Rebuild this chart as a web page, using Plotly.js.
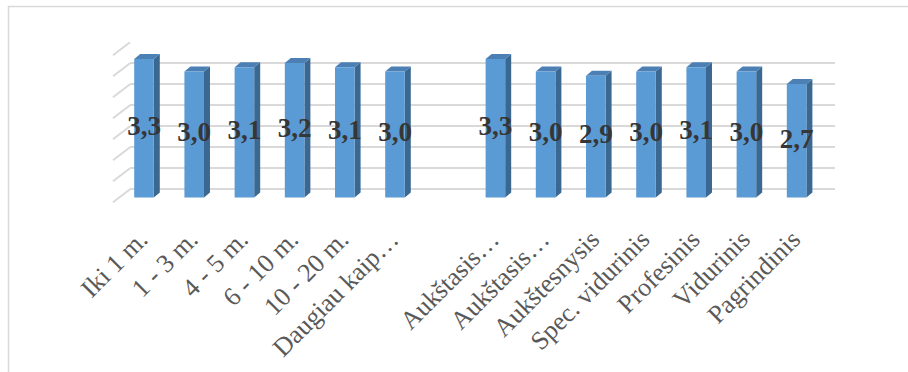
<!DOCTYPE html>
<html>
<head>
<meta charset="utf-8">
<script src="https://cdn.plot.ly/plotly-3.0.1.min.js"></script>
<style>html,body{margin:0;padding:0;background:#fff;}#chart{width:908px;height:372px;}</style>
</head>
<body>
<div id="chart"></div>
<script>
// ---- data ----
const categories = ["Iki 1 m.", "1 - 3 m.", "4 - 5 m.", "6 - 10 m.", "10 - 20 m.", "Daugiau kaip…", "", "Aukštasis…", "Aukštasis…", "Aukštesnysis", "Spec. vidurinis", "Profesinis", "Vidurinis", "Pagrindinis"];
const values = [3.3, 3.0, 3.1, 3.2, 3.1, 3.0, null, 3.3, 3.0, 2.9, 3.0, 3.1, 3.0, 2.7];
const gridStep = 0.5;
const gridMax = 3.5;

// ---- geometry (pixels) ----
const W = 908, H = 372;
const X0_PX = 144, PX_PER_X = 50.2;
const PLOT_L = 130, PLOT_R = 835, PLOT_T = 42, PLOT_B = 205;
const BASE_PX = 197.5, BACK_BASE_PX = 189.3, PX_PER_Y = 42;
const WALL_L = 113, WALL_DY = 13;
const DEPTH_DX = 6 / PX_PER_X, DEPTH_DY = 5 / PX_PER_Y;
const BAR_W = 0.39;

const xs = categories.map((c, i) => i);
const tickvals = xs.filter(i => categories[i] !== "");
const ticktext = tickvals.map(i => categories[i]);
const barX = xs.filter(i => values[i] !== null);
const barY = barX.map(i => values[i]);
const labelText = barY.map(v => v.toFixed(1).replace('.', ','));

const gridOffset = (BASE_PX - BACK_BASE_PX) / PX_PER_Y;

const shapes = [];
// chart border
shapes.push({type: 'rect', xref: 'paper', yref: 'paper', x0: 8.5 / W, x1: 1.05, y0: -0.05, y1: 1 - 6.5 / H,
  line: {color: '#D9D9D9', width: 1.5}, fillcolor: 'rgba(0,0,0,0)', layer: 'below'});
// left wall slanted lines
for (let g = 0; g <= gridMax + 1e-9; g += gridStep) {
  shapes.push({type: 'line', xref: 'paper', yref: 'y', x0: WALL_L / W, x1: PLOT_L / W,
    y0: g + gridOffset - WALL_DY / PX_PER_Y, y1: g + gridOffset,
    line: {color: '#D9D9D9', width: 2}, layer: 'below'});
}
// 3D faces of bars
barX.forEach((x, k) => {
  const v = barY[k];
  const xl = x - BAR_W / 2, xr = x + BAR_W / 2;
  shapes.push({type: 'path', xref: 'x', yref: 'y', layer: 'between',
    path: `M ${xr},0 L ${xr + DEPTH_DX},${DEPTH_DY} L ${xr + DEPTH_DX},${v + DEPTH_DY} L ${xr},${v} Z`,
    fillcolor: '#3B6891', line: {width: 0}});
  shapes.push({type: 'path', xref: 'x', yref: 'y', layer: 'between',
    path: `M ${xl},${v} L ${xl + DEPTH_DX},${v + DEPTH_DY} L ${xr + DEPTH_DX},${v + DEPTH_DY} L ${xr},${v} Z`,
    fillcolor: '#4C80B5', line: {width: 0}});
});

const traces = [
  {type: 'bar', x: barX, y: barY, width: BAR_W, marker: {color: '#5B9BD5', line: {width: 0}},
    hoverinfo: 'skip', showlegend: false},
  {type: 'scatter', mode: 'text', x: barX, y: barY.map(v => v / 2), text: labelText,
    textposition: 'middle center', cliponaxis: false,
    textfont: {family: 'Liberation Serif, Times New Roman, serif', size: 27, color: '#363636', weight: 'bold'},
    hoverinfo: 'skip', showlegend: false}
];

const layout = {
  width: W, height: H, autosize: false,
  margin: {l: 0, r: 0, t: 0, b: 0},
  paper_bgcolor: '#ffffff', plot_bgcolor: 'rgba(0,0,0,0)',
  showlegend: false,
  xaxis: {domain: [PLOT_L / W, PLOT_R / W], range: [(PLOT_L - X0_PX) / PX_PER_X, (PLOT_R - X0_PX) / PX_PER_X],
    tickmode: 'array', tickvals: tickvals, ticktext: ticktext, tickangle: -45,
    ticklabelstandoff: 13, ticklabelshift: -4,
    tickfont: {family: 'Liberation Serif, Times New Roman, serif', size: 26, color: '#595959'},
    showgrid: false, zeroline: false, showline: false, ticks: '', fixedrange: true},
  yaxis: {domain: [(H - PLOT_B) / H, (H - PLOT_T) / H],
    range: [(BASE_PX - PLOT_B) / PX_PER_Y, (BASE_PX - PLOT_T) / PX_PER_Y],
    tick0: gridOffset, dtick: gridStep, showticklabels: false, ticks: '',
    showgrid: true, gridcolor: '#D9D9D9', gridwidth: 2, zeroline: false, showline: false, fixedrange: true},
  shapes: shapes
};

Plotly.newPlot('chart', traces, layout, {displayModeBar: false, staticPlot: true});
</script>
</body>
</html>
